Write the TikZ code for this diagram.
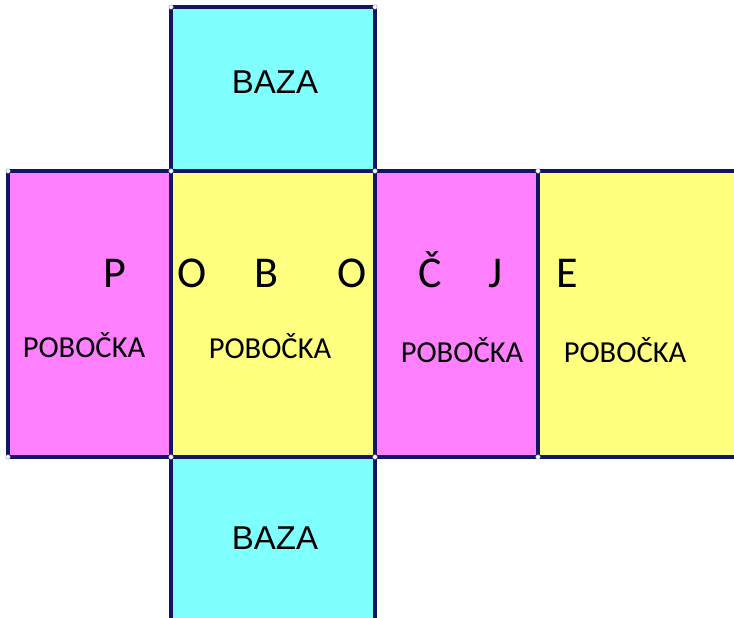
\documentclass[tikz,border=0pt]{standalone}
\usepackage{fontspec}
\newfontfamily\calfont{Carlito}
\newfontfamily\arifont{Liberation Sans}
\definecolor{pinkc}{HTML}{FF80FF}
\definecolor{yelc}{HTML}{FFFF80}
\definecolor{cyanc}{HTML}{80FFFF}
\definecolor{edgec}{HTML}{141466}
\begin{document}
\begin{tikzpicture}[x=1pt,y=-1pt,
  face/.style={draw=edgec,line width=3.4pt,inner sep=0pt,rectangle},
  big/.style={font=\calfont\fontsize{44}{48}\selectfont,anchor=base,inner sep=0pt},
  lbl/.style={font=\calfont\fontsize{30.5}{34}\selectfont,anchor=base,inner sep=0pt},
  baza/.style={font=\arifont\fontsize{33}{36}\selectfont,anchor=base,inner sep=0pt},
  vtx/.style={circle,fill=white,draw=gray!70,line width=0.4pt,inner sep=0pt,minimum size=4.5pt}]
\useasboundingbox (0,0) rectangle (734,618);
\clip (0,0) rectangle (734,618);
\fill[white] (0,0) rectangle (734,618);
% faces
\node[face,fill=cyanc,minimum width=204pt,minimum height=164pt] (top) at (273,89) {};
\node[face,fill=pinkc,minimum width=163pt,minimum height=286pt] (f1) at (89.5,314) {};
\node[face,fill=yelc,minimum width=204pt,minimum height=286pt] (f2) at (273,314) {};
\node[face,fill=pinkc,minimum width=163pt,minimum height=286pt] (f3) at (456.5,314) {};
\node[face,fill=yelc,minimum width=220pt,minimum height=286pt] (f4) at (648,314) {};
\node[face,fill=cyanc,minimum width=204pt,minimum height=180pt] (bot) at (273,547) {};
% texts
\node[baza] (t1) at (275,93) {BAZA};
\node[baza] (t2) at (275,549) {BAZA};
\node[big] (l1) at (115,287) {P};
\node[big] (l2) at (192,287) {O};
\node[big] (l3) at (266,287) {B};
\node[big] (l4) at (352,287) {O};
\node[big] (l5) at (430,287) {Č};
\node[big] (l6) at (496,287) {J};
\node[big] (l7) at (567,287) {E};
\node[lbl] (p1) at (84,357) {POBOČKA};
\node[lbl] (p2) at (270,358) {POBOČKA};
\node[lbl] (p3) at (462,362) {POBOČKA};
\node[lbl] (p4) at (625,362) {POBOČKA};
% vertices
\foreach \i/\p in {a/{(171,7)},b/{(375,7)},c/{(8,171)},d/{(171,171)},e/{(375,171)},f/{(538,171)},g/{(8,457)},h/{(171,457)},k/{(375,457)},m/{(538,457)}}
  \node[vtx] (v\i) at \p {};
\end{tikzpicture}
\end{document}
